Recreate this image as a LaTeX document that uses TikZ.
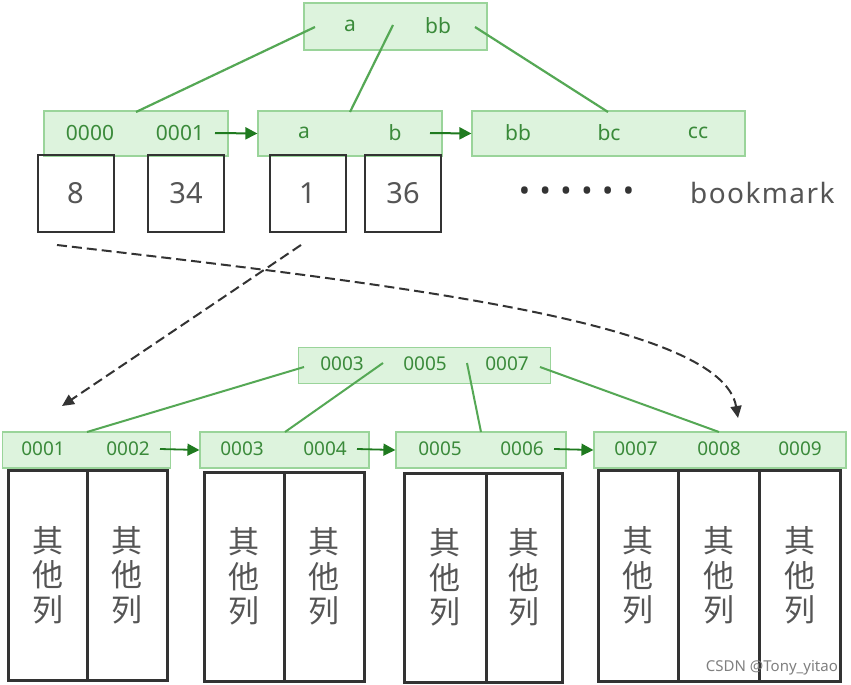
\documentclass[tikz,border=0pt]{standalone}
\usepackage{fontspec}
\setmainfont{Noto Sans}
\newfontfamily\cjk{Noto Sans CJK SC}
\newfontfamily\bmfont[LetterSpace=5]{Noto Sans}
\usetikzlibrary{arrows.meta}
\definecolor{gfill}{HTML}{DDF3DD}
\definecolor{gline}{HTML}{9AD49A}
\definecolor{gtext}{HTML}{3A8A3A}
\definecolor{gedge}{HTML}{55A855}
\definecolor{garrow}{HTML}{1F7A1F}
\definecolor{dk}{HTML}{333333}
\definecolor{txtgray}{HTML}{555555}
\begin{document}
\begin{tikzpicture}[x=1pt,y=-1pt,
  gbox/.style={draw=gline,fill=gfill,line width=1.2pt,inner sep=0pt},
  gtA/.style={text=gtext,font=\fontsize{21}{21}\selectfont,inner sep=1pt},
  gtB/.style={text=gtext,font=\fontsize{19}{19}\selectfont,inner sep=1pt},
  gedgeline/.style={draw=gedge,line width=2.2pt},
  garr/.style={draw=garrow,line width=2pt,-{Triangle[length=12pt,width=12pt]}},
  kbox/.style={draw=dk,line width=2pt,minimum width=76pt,minimum height=77pt,inner sep=0pt,text=txtgray,font=\fontsize{29}{29}\selectfont},
  colbox/.style={draw=dk,line width=3pt,inner sep=0pt},
  coltxt/.style={text=txtgray,align=center,font=\cjk\fontsize{31}{34.5}\selectfont},
  dasharr/.style={draw=dk,line width=2pt,dash pattern=on 10pt off 5pt,-{Triangle[length=12pt,width=11pt]}}
]
\useasboundingbox (0,0) rectangle (851,685);
\fill[white] (0,0) rectangle (851,685);

% ---------- upper tree ----------
\node[gbox,minimum width=183pt,minimum height=47pt] (root) at (395.5,26.5) {};
\node[gtA] (ra) at (350,26) {a};
\node[gtA] (rbb) at (438,26) {bb};

\node[gbox,minimum width=184pt,minimum height=45pt] (L1) at (136,133.5) {};
\node[gtA] (l1a) at (90,133) {0000};
\node[gtA] (l1b) at (180,133) {0001};
\node[gbox,minimum width=184pt,minimum height=45pt] (L2) at (350,133.5) {};
\node[gtA] (l2a) at (304,133) {a};
\node[gtA] (l2b) at (395,133) {b};
\node[gbox,minimum width=273pt,minimum height=45pt] (L3) at (608.5,133.5) {};
\node[gtA] (l3a) at (518,133) {bb};
\node[gtA] (l3b) at (609,133) {bc};
\node[gtA] (l3c) at (698,133) {cc};

\coordinate (r1) at (315,27);
\coordinate (r2) at (393,25);
\coordinate (r3) at (475,27);
\coordinate (c1) at (136,112);
\coordinate (c2) at (350,112);
\coordinate (c3) at (608,112);
\draw[gedgeline] (r1) -- (c1);
\draw[gedgeline] (r2) -- (c2);
\draw[gedgeline] (r3) -- (c3);

\coordinate (ua1) at (215,133);
\coordinate (ua2) at (430,133);
\draw[garr] (ua1) -- (L2.west);
\draw[garr] (ua2) -- (L3.west);

\node[kbox] (k8) at (75.5,193.5) {8};
\node[kbox] (k34) at (186,193.5) {34};
\node[kbox] (k1) at (307.5,193.5) {1};
\node[kbox] (k36) at (403,193.5) {36};

\node[text=dk,font=\fontsize{30}{30}\selectfont,inner sep=0pt] (dots) at (576.5,194) {•\hspace{9.5pt}•\hspace{9.5pt}•\hspace{9.5pt}•\hspace{9.5pt}•\hspace{9.5pt}•};
\node[text=txtgray,font=\bmfont\fontsize{28}{28}\selectfont,anchor=base west,inner sep=0pt] (bm) at (690,203) {bookmark};

% ---------- dashed connectors ----------
\coordinate (d1s) at (57,245);
\coordinate (d1e) at (738,418);
\coordinate (d2s) at (301,245);
\coordinate (d2e) at (62,406);
\draw[dasharr] (d1s) .. controls (400,285) and (722,322) .. (d1e);
\draw[dasharr] (d2s) -- (d2e);

% ---------- lower tree ----------
\node[gbox,minimum width=252pt,minimum height=36pt] (R2) at (424.5,365.5) {};
\node[gtB] (q3) at (342,364) {0003};
\node[gtB] (q5) at (425,364) {0005};
\node[gtB] (q7) at (507,364) {0007};

\node[gbox,minimum width=168pt,minimum height=36pt] (P1) at (86.5,450) {};
\node[gtB] (p1a) at (43,449) {0001};
\node[gtB] (p1b) at (128,449) {0002};
\node[gbox,minimum width=169pt,minimum height=36pt] (P2) at (284.5,450) {};
\node[gtB] (p2a) at (242,449) {0003};
\node[gtB] (p2b) at (325,449) {0004};
\node[gbox,minimum width=170pt,minimum height=36pt] (P3) at (481,450) {};
\node[gtB] (p3a) at (440,449) {0005};
\node[gtB] (p3b) at (522,449) {0006};
\node[gbox,minimum width=252pt,minimum height=36pt] (P4) at (720,450) {};
\node[gtB] (p4a) at (636,449) {0007};
\node[gtB] (p4b) at (719,449) {0008};
\node[gtB] (p4c) at (800,449) {0009};

\coordinate (s1) at (304,367);
\coordinate (s2) at (383,363);
\coordinate (s3) at (467,363);
\coordinate (s4) at (540,367);
\coordinate (t1) at (87,432);
\coordinate (t2) at (285,432);
\coordinate (t3) at (481,432);
\coordinate (t4) at (719,432);
\draw[gedgeline,line width=2pt] (s1) -- (t1);
\draw[gedgeline,line width=2pt] (s2) -- (t2);
\draw[gedgeline,line width=2pt] (s3) -- (t3);
\draw[gedgeline,line width=2pt] (s4) -- (t4);

\coordinate (la1) at (160,449);
\coordinate (la2) at (357,449);
\coordinate (la3) at (554,449);
\draw[garr,line width=1.8pt] (la1) -- (P2.west);
\draw[garr,line width=1.8pt] (la2) -- (P3.west);
\draw[garr,line width=1.8pt] (la3) -- (P4.west);

% columns
\node[colbox,minimum width=79pt,minimum height=210pt] (c11) at (47.5,575) {};
\node[colbox,minimum width=80pt,minimum height=210pt] (c12) at (127,575) {};
\node[colbox,minimum width=80pt,minimum height=209pt] (c21) at (244,576.5) {};
\node[colbox,minimum width=80pt,minimum height=209pt] (c22) at (324,576.5) {};
\node[colbox,minimum width=82pt,minimum height=209pt] (c31) at (445,577.5) {};
\node[colbox,minimum width=76pt,minimum height=209pt] (c32) at (524,577.5) {};
\node[colbox,minimum width=80pt,minimum height=211pt] (c41) at (638,575.5) {};
\node[colbox,minimum width=81pt,minimum height=211pt] (c42) at (718.5,575.5) {};
\node[colbox,minimum width=81pt,minimum height=211pt] (c43) at (799.5,575.5) {};

\foreach \n in {c11,c12,c21,c22,c31,c32,c41,c42,c43}{
  \node[coltxt] (\n t) at (\n.center) {其\\他\\列};
}

\node[text=gray,font=\fontsize{15}{15}\selectfont,anchor=east,inner sep=0pt] (wm) at (838,668) {CSDN @Tony\_yitao};
\end{tikzpicture}
\end{document}
